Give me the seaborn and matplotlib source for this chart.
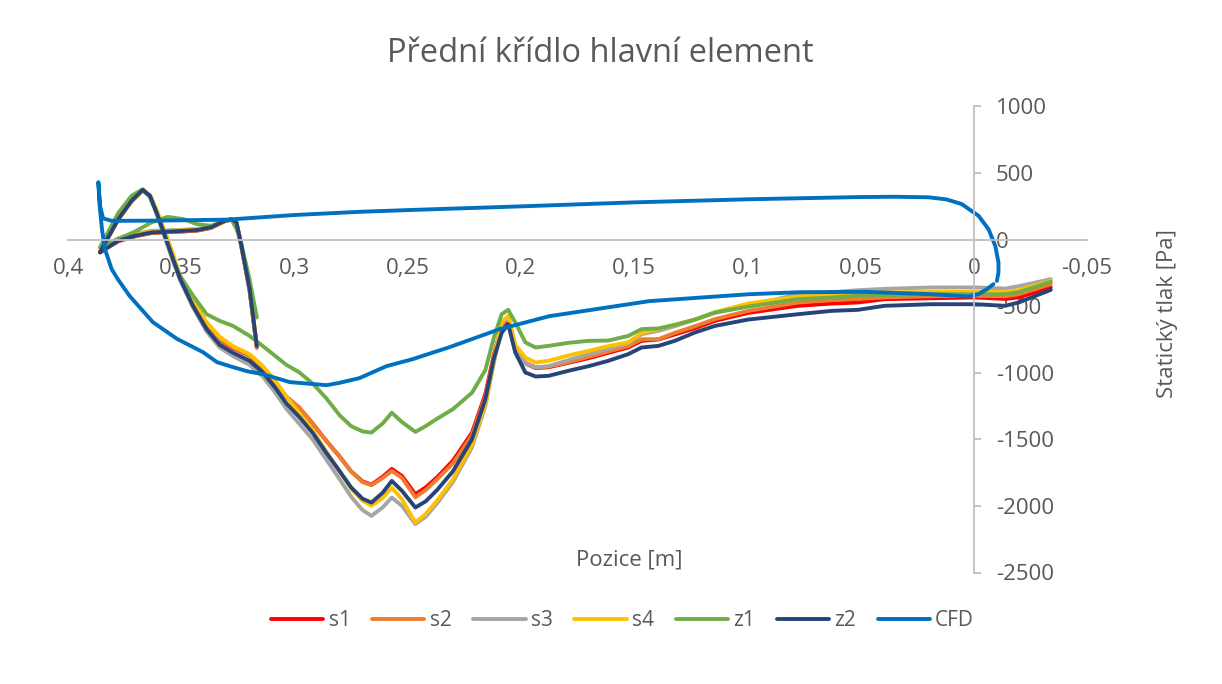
import matplotlib
matplotlib.use("Agg")
import matplotlib.pyplot as plt
import seaborn as sns

# Tap positions along the element [m] (shared by all measured series, path order)
pos = [0.3166, 0.3198, 0.3236, 0.3256, 0.3279, 0.3308, 0.3369, 0.3430, 0.3490, 0.3560,
       0.3631, 0.3705, 0.3778, 0.3837, 0.3859, 0.3778, 0.3719, 0.3670, 0.3638, 0.3609,
       0.3572, 0.3536, 0.3506, 0.3448, 0.3388, 0.3330, 0.3271, 0.3198, 0.3139, 0.3080,
       0.3036, 0.2980, 0.2920, 0.2860, 0.2800, 0.2750, 0.2700, 0.2660, 0.2610, 0.2570,
       0.2525, 0.2466, 0.2420, 0.2370, 0.2300, 0.2216, 0.2157, 0.2120, 0.2085, 0.2056,
       0.2025, 0.1980, 0.1935, 0.1878, 0.1790, 0.1700, 0.1614, 0.1526, 0.1467, 0.1393,
       0.1320, 0.1231, 0.1143, 0.0996, 0.0776, 0.0629, 0.0511, 0.0394, 0.0188, -0.0007,
       -0.0139, -0.0198, -0.0340]

s1 = [-810, -380, -35, 125, 150, 138, 88, 68, 62, 56, 50, 25, -12, -72, -96,
      152, 290, 372, 330, 210, 40, -130,
      -285, -475, -645, -755, -815, -872, -962, -1082, -1180,
      -1260, -1380, -1510, -1630, -1740, -1815, -1840, -1780, -1722, -1775, -1912, -1860,
      -1785, -1660, -1450, -1160, -870,
      -650, -597, -810, -930, -965, -958, -925, -890, -850, -810, -760, -750, -712, -665,
      -610, -550, -497, -480, -472, -447, -440, -434, -445, -434, -359]

s2 = [-815, -385, -40, 124, 150, 137, 88, 68, 62, 56, 50, 25, -12, -72, -96,
      152, 290, 372, 332, 212, 45, -125,
      -280, -470, -640, -750, -810, -870, -960, -1080, -1180,
      -1260, -1380, -1510, -1630, -1740, -1820, -1844, -1790, -1737, -1790, -1935, -1880,
      -1800, -1680, -1470, -1180, -880,
      -640, -575, -800, -923, -960, -953, -920, -880, -840, -800, -748, -748, -700, -650,
      -597, -535, -472, -455, -445, -434, -425, -422, -425, -410, -334]

s3 = [-805, -375, -30, 130, 152, 140, 95, 80, 75, 70, 66, 45, 10, -55, -90,
      160, 295, 370, 322, 195, 15, -165,
      -300, -510, -690, -810, -875, -940, -1030, -1160, -1270,
      -1380, -1500, -1650, -1800, -1930, -2030, -2075, -2010, -1937, -2000, -2137, -2080,
      -1980, -1820, -1560, -1250, -930,
      -630, -580, -800, -930, -960, -950, -905, -860, -820, -780, -710, -685, -650, -600,
      -550, -497, -410, -395, -380, -370, -359, -359, -367, -350, -297]

s4 = [-800, -370, -28, 128, 150, 138, 90, 78, 72, 66, 60, 40, 5, -60, -92,
      150, 285, 365, 335, 225, 60, -110,
      -270, -455, -620, -730, -800, -860, -950, -1070, -1180,
      -1300, -1430, -1590, -1740, -1870, -1960, -1999, -1940, -1862, -1950, -2125, -2060,
      -1960, -1800, -1540, -1230, -920,
      -620, -572, -790, -885, -923, -910, -870, -835, -800, -772, -700, -672, -640, -600,
      -545, -480, -427, -410, -400, -397, -392, -392, -392, -380, -310]

z1 = [-585, -300, -20, 80, 154, 141, 104, 116, 154, 171, 130, 60, 5, -34, -59,
      200, 330, 379, 320, 200, 25, -150,
      -270, -420, -560, -610, -648, -723, -800, -880, -940,
      -995, -1080, -1190, -1320, -1400, -1440, -1449, -1380, -1300, -1370, -1444, -1400,
      -1345, -1273, -1150, -980, -740,
      -560, -527, -622, -772, -810, -798, -775, -760, -758, -723, -672, -667, -640, -600,
      -547, -503, -447, -435, -422, -415, -410, -410, -410, -395, -317]

z2 = [-800, -372, -30, 129, 154, 141, 92, 72, 66, 60, 54, 29, -9, -71, -96,
      154, 292, 374, 329, 204, 29, -146,
      -290, -497, -672, -790, -850, -910, -998, -1123, -1230,
      -1330, -1450, -1600, -1740, -1860, -1945, -1975, -1900, -1812, -1887, -2012, -1965,
      -1880, -1740, -1499, -1198, -898,
      -700, -635, -847, -998, -1028, -1023, -985, -950, -910, -860, -810, -798, -760, -697,
      -648, -600, -560, -535, -527, -497, -485, -485, -497, -472, -377]

# CFD surface pressure, path from trailing edge over the upper branch, round the
# leading edge and back along the lower branch
cfd_pos = [-0.0102, -0.0109, -0.0109, -0.0095, -0.0065, -0.0021, 0.0053, 0.0120, 0.0199, 0.035,
           0.05, 0.10, 0.15, 0.20, 0.25, 0.2713, 0.30, 0.33, 0.36, 0.3807,
           0.3845, 0.3858, 0.3866, 0.3860, 0.3850, 0.3837, 0.3807, 0.378, 0.3727, 0.3625,
           0.3519, 0.3404, 0.3342, 0.3286, 0.321, 0.314, 0.3021, 0.2858, 0.28, 0.2713,
           0.2593, 0.2479, 0.2316, 0.2095, 0.1875, 0.1434, 0.0993, 0.0773, 0.0479, 0.0185,
           0.0023, -0.0021, -0.0058, -0.0087]
cfd_p = [-310, -246, -171, -47, 79, 179, 267, 302, 318, 322,
         320, 303, 280, 250, 222, 209, 185, 150, 143, 141,
         160, 250, 432, 250, 79, -71, -222, -297, -425, -620,
         -745, -845, -920, -950, -988, -1010, -1070, -1093, -1075, -1040,
         -950, -898, -808, -673, -575, -462, -410, -395, -392, -410,
         -427, -409, -372, -334]

x_ticks = [0.4, 0.35, 0.3, 0.25, 0.2, 0.15, 0.1, 0.05, 0.0, -0.05]
x_tick_labels = ["0,4", "0,35", "0,3", "0,25", "0,2", "0,15", "0,1", "0,05", "0", "-0,05"]
y_ticks = [1000, 500, 0, -500, -1000, -1500, -2000, -2500]
y_tick_labels = ["1000", "500", "0", "-500", "-1000", "-1500", "-2000", "-2500"]

series = [
    ("s1", s1, "#FF0000"),
    ("s2", s2, "#ED7D31"),
    ("s3", s3, "#A5A5A5"),
    ("s4", s4, "#FFC000"),
    ("z1", z1, "#70AD47"),
    ("z2", z2, "#264478"),
]

sns.set_theme(style="white")
plt.rcParams["font.family"] = ["Open Sans", "DejaVu Sans"]
TXT = "#595959"
AXC = "#BFBFBF"

W, H = 1222, 684
fig = plt.figure(figsize=(W / 100, H / 100), dpi=100)
ax = fig.add_axes([68 / W, 1 - 572.5 / H, 1019 / W, 466 / H])

line_kw = dict(sort=False, estimator=None, lw=2.8, ax=ax)
for name, vals, col in series:
    sns.lineplot(x=pos, y=vals, color=col, label=name, **line_kw)
sns.lineplot(x=cfd_pos, y=cfd_p, color="#0070C0", label="CFD", **line_kw)
for ln in ax.get_lines():
    ln.set_solid_joinstyle("round")
    ln.set_solid_capstyle("round")

ax.set_xlim(0.4, -0.05)
ax.set_ylim(-2500, 1000)

# axes cross at the origin, value axis labelled on its right
for side in ("top", "left"):
    ax.spines[side].set_visible(False)
ax.spines["bottom"].set_position(("data", 0))
ax.spines["right"].set_position(("data", 0))
for side in ("bottom", "right"):
    ax.spines[side].set_color(AXC)
    ax.spines[side].set_linewidth(1.3)
ax.yaxis.tick_right()
ax.set_xticks(x_ticks)
ax.set_xticklabels(x_tick_labels)
ax.set_yticks(y_ticks)
ax.set_yticklabels(y_tick_labels)
ax.tick_params(axis="x", direction="out", length=6, width=1.3, color=AXC,
               labelsize=16, labelcolor=TXT, pad=7)
ax.tick_params(axis="y", direction="out", length=5, width=1.3, color=AXC,
               labelsize=16, labelcolor=TXT, pad=11, right=True, left=False)
ax.set_xlabel("")
ax.set_ylabel("")
ax.grid(False)

fig.text(600 / W, 1 - 62 / H, "Přední křídlo hlavní element", ha="center",
         va="baseline", fontsize=23.5, color=TXT)
fig.text(629 / W, 1 - 560 / H, "Pozice [m]", ha="center", va="center",
         fontsize=16, color=TXT)
fig.text(1168 / W, 1 - 314 / H, "Statický tlak [Pa]", ha="center", va="center",
         rotation=90, fontsize=16, color=TXT)

handles, labels = ax.get_legend_handles_labels()
ax.get_legend().remove()
fig.legend(handles, labels, loc="center", bbox_to_anchor=(622.5 / W, 1 - 621 / H),
           ncol=7, frameon=False, fontsize=15, labelcolor=TXT, handlelength=2.5,
           handletextpad=0.25, columnspacing=1.05, borderpad=0)

fig.savefig("out.png", dpi=100)
